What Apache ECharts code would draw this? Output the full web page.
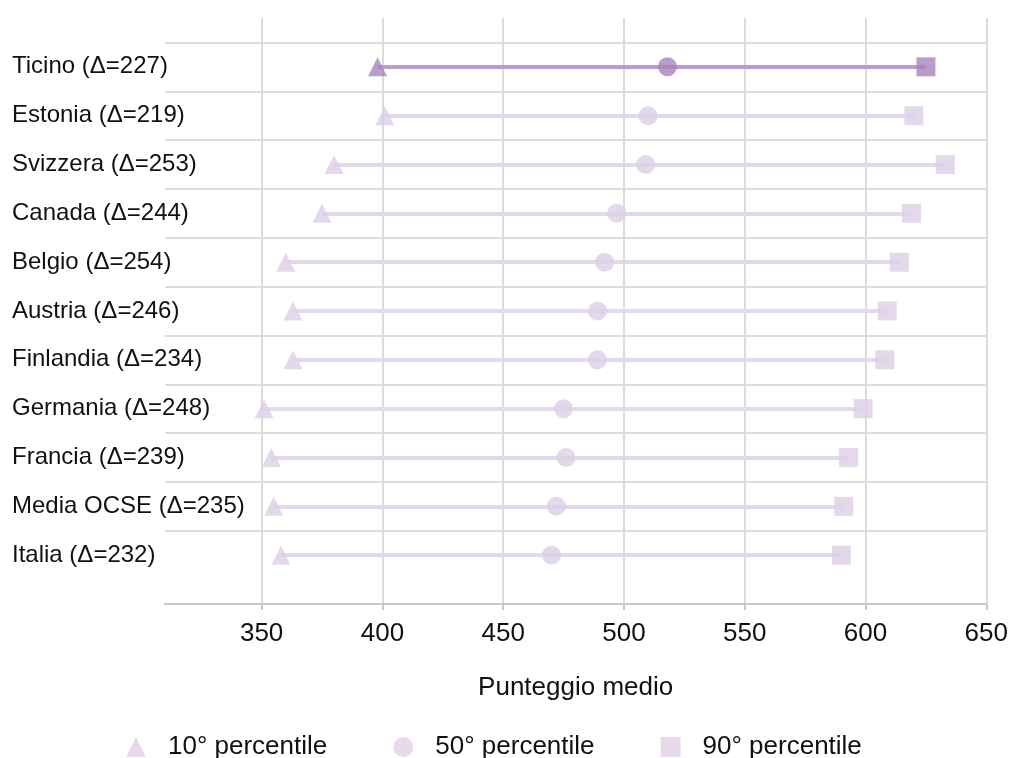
<!DOCTYPE html>
<html>
<head>
<meta charset="utf-8">
<script src="https://cdn.jsdelivr.net/npm/echarts@6/dist/echarts.min.js"></script>
<style>html,body{margin:0;padding:0;background:#fff;}#c{width:1011px;height:758px;}</style>
</head>
<body>
<div id="c"></div>
<script>
const categories = ['Ticino (Δ=227)','Estonia (Δ=219)','Svizzera (Δ=253)','Canada (Δ=244)','Belgio (Δ=254)','Austria (Δ=246)','Finlandia (Δ=234)','Germania (Δ=248)','Francia (Δ=239)','Media OCSE (Δ=235)','Italia (Δ=232)'];
const p10 = [398, 401, 380, 375, 360, 363, 363, 351, 354, 355, 358];
const p50 = [518, 510, 509, 497, 492, 489, 489, 475, 476, 472, 470];
const p90 = [625, 620, 633, 619, 614, 609, 608, 599, 593, 591, 590];
const xTicks = [350, 400, 450, 500, 550, 600, 650];
const seriesNames = ['10° percentile', '50° percentile', '90° percentile'];

const HI = 0; // highlighted row (Ticino)
const hiMarker = '#a884bc', hiLine = '#bb9ccc';
const loMarker = '#ddd0e6', loLine = '#e4d8ec';
const legendColor = '#e2d0e6';

const rowIdx = categories.map((_, i) => i);
const splitPos = categories.map((_, i) => i - 0.5);

function pts(vals) {
  return vals.map((v, i) => ({
    value: [v, i],
    itemStyle: { color: i === HI ? hiMarker : loMarker }
  }));
}

const chart = echarts.init(document.getElementById('c'), null, { renderer: 'canvas' });
chart.setOption({
  animation: false,
  textStyle: { fontFamily: '"Liberation Sans", Arial, sans-serif' },
  grid: { left: 165, right: 24, top: 18, bottom: 154 },
  xAxis: {
    type: 'value', min: 310, max: 650,
    name: 'Punteggio medio', nameLocation: 'middle', nameGap: 71,
    nameTextStyle: { fontSize: 26, color: '#111' },
    axisLine: { show: true, onZero: false, lineStyle: { color: '#c8c8c8', width: 2 } },
    axisTick: { show: true, customValues: xTicks, length: 6, lineStyle: { color: '#c8c8c8', width: 2 } },
    axisLabel: { customValues: xTicks, fontSize: 26, color: '#111', margin: 17 },
    splitLine: { show: true, lineStyle: { color: '#dcdcdc', width: 2 } }
  },
  yAxis: {
    type: 'value', min: -1, max: 11, inverse: true,
    axisLine: { show: false },
    axisTick: { show: false, customValues: splitPos },
    axisLabel: {
      customValues: rowIdx, fontSize: 24, color: '#111', align: 'left', margin: 153,
      formatter: v => categories[Math.round(v)] || ''
    },
    splitLine: { show: true, lineStyle: { color: '#dcdcdc', width: 2 } }
  },
  legend: {
    data: seriesNames, left: 121, top: 729, itemWidth: 20, itemHeight: 20, itemGap: 66,
    textStyle: { fontSize: 26, color: '#111', padding: [0, 0, 0, 17] },
    selectedMode: false
  },
  series: [
    {
      type: 'lines', coordinateSystem: 'cartesian2d', silent: true, z: 2,
      data: categories.map((_, i) => ({
        coords: [[p10[i], i], [p90[i], i]],
        lineStyle: { color: i === HI ? hiLine : loLine, width: 4, opacity: 1 }
      })),
      lineStyle: { width: 4, opacity: 1 }
    },
    { name: seriesNames[0], type: 'scatter', symbol: 'triangle', symbolSize: 19, z: 3,
      itemStyle: { color: legendColor }, data: pts(p10) },
    { name: seriesNames[1], type: 'scatter', symbol: 'circle', symbolSize: 19, z: 3,
      itemStyle: { color: legendColor }, data: pts(p50) },
    { name: seriesNames[2], type: 'scatter', symbol: 'rect', symbolSize: 19, z: 3,
      itemStyle: { color: legendColor }, data: pts(p90) }
  ]
});
</script>
</body>
</html>
